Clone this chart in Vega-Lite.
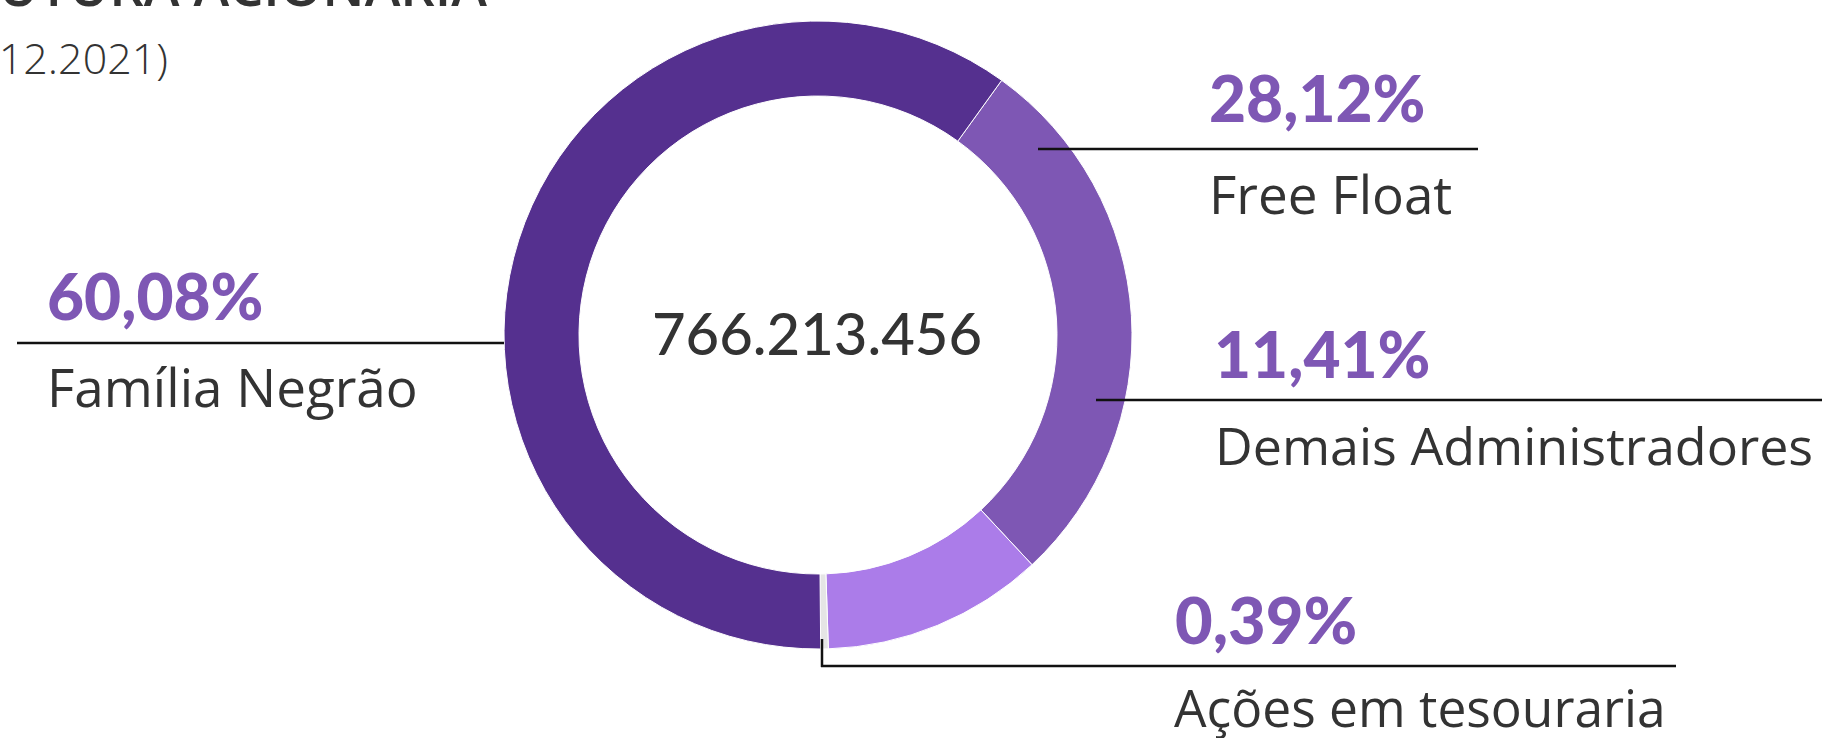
{
  "$schema": "https://vega.github.io/schema/vega-lite/v6.json",
  "width": 1825,
  "height": 738,
  "autosize": {"type": "none"},
  "padding": 0,
  "background": "white",
  "config": {
    "view": {"stroke": null},
    "locale": {"number": {"decimal": ",", "thousands": ".", "grouping": [3], "currency": ["R$", ""]}}
  },
  "datasets": {
    "acionistas": [
      {"acionista": "Free Float", "participacao": 0.2812, "ordem": 1},
      {"acionista": "Demais Administradores", "participacao": 0.1141, "ordem": 2},
      {"acionista": "Ações em tesouraria", "participacao": 0.0039, "ordem": 3},
      {"acionista": "Família Negrão", "participacao": 0.6008, "ordem": 4}
    ],
    "total": [{"acoes": 766213456, "titulo": "ESTRUTURA ACIONÁRIA", "data": "(31.12.2021)"}]
  },
  "layer": [
    {
      "data": {"name": "acionistas"},
      "mark": {"type": "arc", "outerRadius": 314, "innerRadius": 239, "stroke": "#ffffff", "strokeWidth": 1},
      "encoding": {
        "x": {"datum": 818, "type": "quantitative", "scale": {"domain": [0, 1825], "nice": false, "zero": false}, "axis": null},
        "y": {"datum": 335, "type": "quantitative", "scale": {"domain": [0, 738], "reverse": true, "nice": false, "zero": false}, "axis": null},
        "theta": {"field": "participacao", "type": "quantitative", "stack": true, "scale": {"range": [0.6248, 6.908]}},
        "color": {
          "field": "acionista", "type": "nominal", "legend": null,
          "scale": {
            "domain": ["Free Float", "Demais Administradores", "Ações em tesouraria", "Família Negrão"],
            "range": ["#7e57b4", "#ab7ce9", "#e5e5e5", "#55308f"]
          }
        },
        "order": {"field": "ordem", "type": "quantitative"}
      }
    },
    {
      "data": {"name": "total"},
      "layer": [
        {
          "mark": {"type": "text", "font": "Lato", "fontSize": 58, "fontWeight": 500, "color": "#333333", "align": "center", "baseline": "alphabetic"},
          "encoding": {
            "x": {"datum": 817, "type": "quantitative"},
            "y": {"datum": 355, "type": "quantitative"},
            "text": {"field": "acoes", "type": "quantitative", "format": ",d"}
          }
        },
        {
          "mark": {"type": "text", "font": "Open Sans", "fontSize": 54, "fontWeight": 600, "color": "#333333", "align": "right", "baseline": "alphabetic"},
          "encoding": {
            "x": {"datum": 487, "type": "quantitative"},
            "y": {"datum": 6, "type": "quantitative"},
            "text": {"field": "titulo"}
          }
        },
        {
          "mark": {"type": "text", "font": "Open Sans", "fontSize": 43, "fontWeight": 300, "color": "#333333", "align": "right", "baseline": "alphabetic"},
          "encoding": {
            "x": {"datum": 168, "type": "quantitative"},
            "y": {"datum": 74, "type": "quantitative"},
            "text": {"field": "data"}
          }
        }
      ]
    },
    {
      "data": {"name": "acionistas"},
      "transform": [{"filter": "datum.acionista === 'Família Negrão'"}],
      "layer": [
        {"mark": {"type": "rule", "color": "#111111", "strokeWidth": 2.5},
         "encoding": {"x": {"datum": 17, "type": "quantitative"}, "x2": {"datum": 504}, "y": {"datum": 343, "type": "quantitative"}}},
        {"mark": {"type": "text", "font": "Lato", "fontSize": 64, "fontWeight": 900, "color": "#7e57b4", "align": "left", "baseline": "alphabetic"},
         "encoding": {"x": {"datum": 47, "type": "quantitative"}, "y": {"datum": 320, "type": "quantitative"}, "text": {"field": "participacao", "type": "quantitative", "format": ".2%"}}},
        {"mark": {"type": "text", "font": "Open Sans", "fontSize": 53, "color": "#333333", "align": "left", "baseline": "alphabetic"},
         "encoding": {"x": {"datum": 47, "type": "quantitative"}, "y": {"datum": 407, "type": "quantitative"}, "text": {"field": "acionista"}}}
      ]
    },
    {
      "data": {"name": "acionistas"},
      "transform": [{"filter": "datum.acionista === 'Free Float'"}],
      "layer": [
        {"mark": {"type": "rule", "color": "#111111", "strokeWidth": 2.5},
         "encoding": {"x": {"datum": 1038, "type": "quantitative"}, "x2": {"datum": 1478}, "y": {"datum": 149, "type": "quantitative"}}},
        {"mark": {"type": "text", "font": "Lato", "fontSize": 64, "fontWeight": 900, "color": "#7e57b4", "align": "left", "baseline": "alphabetic"},
         "encoding": {"x": {"datum": 1209, "type": "quantitative"}, "y": {"datum": 122, "type": "quantitative"}, "text": {"field": "participacao", "type": "quantitative", "format": ".2%"}}},
        {"mark": {"type": "text", "font": "Open Sans", "fontSize": 53, "color": "#333333", "align": "left", "baseline": "alphabetic"},
         "encoding": {"x": {"datum": 1209, "type": "quantitative"}, "y": {"datum": 214, "type": "quantitative"}, "text": {"field": "acionista"}}}
      ]
    },
    {
      "data": {"name": "acionistas"},
      "transform": [{"filter": "datum.acionista === 'Demais Administradores'"}],
      "layer": [
        {"mark": {"type": "rule", "color": "#111111", "strokeWidth": 2.5},
         "encoding": {"x": {"datum": 1096, "type": "quantitative"}, "x2": {"datum": 1822}, "y": {"datum": 400, "type": "quantitative"}}},
        {"mark": {"type": "text", "font": "Lato", "fontSize": 64, "fontWeight": 900, "color": "#7e57b4", "align": "left", "baseline": "alphabetic"},
         "encoding": {"x": {"datum": 1214, "type": "quantitative"}, "y": {"datum": 378, "type": "quantitative"}, "text": {"field": "participacao", "type": "quantitative", "format": ".2%"}}},
        {"mark": {"type": "text", "font": "Open Sans", "fontSize": 52, "color": "#333333", "align": "left", "baseline": "alphabetic"},
         "encoding": {"x": {"datum": 1215, "type": "quantitative"}, "y": {"datum": 465, "type": "quantitative"}, "text": {"field": "acionista"}}}
      ]
    },
    {
      "data": {"name": "acionistas"},
      "transform": [{"filter": "datum.acionista === 'Ações em tesouraria'"}],
      "layer": [
        {"mark": {"type": "rule", "color": "#111111", "strokeWidth": 2.5},
         "encoding": {"x": {"datum": 822, "type": "quantitative"}, "y": {"datum": 639, "type": "quantitative"}, "y2": {"datum": 667}}},
        {"mark": {"type": "rule", "color": "#111111", "strokeWidth": 2.5},
         "encoding": {"x": {"datum": 821, "type": "quantitative"}, "x2": {"datum": 1676}, "y": {"datum": 666, "type": "quantitative"}}},
        {"mark": {"type": "text", "font": "Lato", "fontSize": 65, "fontWeight": 900, "color": "#7e57b4", "align": "left", "baseline": "alphabetic"},
         "encoding": {"x": {"datum": 1175, "type": "quantitative"}, "y": {"datum": 644, "type": "quantitative"}, "text": {"field": "participacao", "type": "quantitative", "format": ".2%"}}},
        {"mark": {"type": "text", "font": "Open Sans", "fontSize": 51.5, "color": "#333333", "align": "left", "baseline": "alphabetic"},
         "encoding": {"x": {"datum": 1174, "type": "quantitative"}, "y": {"datum": 727, "type": "quantitative"}, "text": {"field": "acionista"}}}
      ]
    }
  ]
}
